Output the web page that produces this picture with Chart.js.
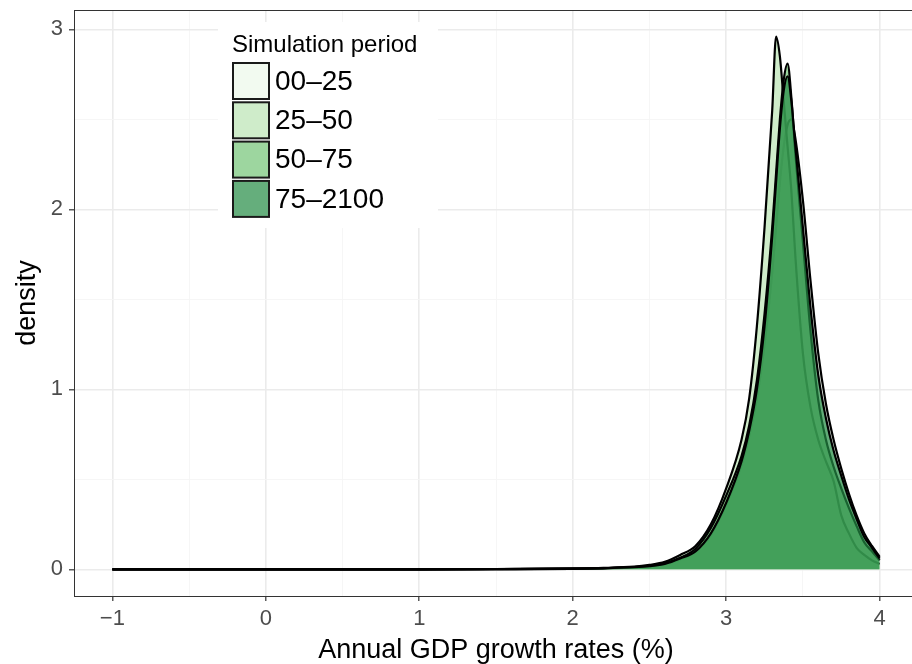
<!DOCTYPE html>
<html>
<head>
<meta charset="utf-8">
<script src="https://cdn.jsdelivr.net/npm/chart.js@4"></script>
<style>
  html, body { margin: 0; padding: 0; background: #fff; overflow: hidden; }
  #wrap { width: 930px; height: 664px; }
</style>
</head>
<body>
<div id="wrap"><canvas id="myChart"></canvas></div>
<script>
const ctx = document.getElementById('myChart')

// simulation periods (legend order)
const periods = ['00–25', '25–50', '50–75', '75–2100']

// growth rate grid (%)
const growth = [-1, 0, 1, 1.5, 2, 2.2, 2.4, 2.5, 2.6, 2.7, 2.8, 2.9, 3.0, 3.1, 3.15, 3.2, 3.25, 3.3, 3.325,
    3.35, 3.375, 3.4, 3.425, 3.45, 3.5, 3.55, 3.6, 3.65, 3.7, 3.75, 3.8, 3.85, 3.9, 3.95, 4.0]

// density per period
const dens0025 = [0, 0, 0, 0.001, 0.003, 0.006, 0.011, 0.018, 0.03, 0.055, 0.1, 0.19, 0.36, 0.58, 0.74, 0.95, 1.25, 1.65, 1.9,
    2.15, 2.35, 2.47, 2.5, 2.4, 2.05, 1.6, 1.2, 0.92, 0.72, 0.56, 0.42, 0.3, 0.2, 0.13, 0.07]
const dens2550 = [0, 0, 0, 0.002, 0.005, 0.008, 0.015, 0.025, 0.042, 0.08, 0.13, 0.25, 0.45, 0.72, 0.95, 1.35, 1.9, 2.55, 2.96,
    2.85, 2.6, 2.35, 2.1, 1.75, 1.2, 0.9, 0.72, 0.6, 0.49, 0.3, 0.2, 0.12, 0.08, 0.05, 0.03]
const dens5075 = [0, 0, 0, 0.001, 0.004, 0.007, 0.013, 0.02, 0.035, 0.065, 0.115, 0.23, 0.41, 0.63, 0.8, 1.05, 1.42, 1.9, 2.2,
    2.5, 2.72, 2.81, 2.62, 2.32, 1.82, 1.32, 0.94, 0.72, 0.57, 0.45, 0.34, 0.24, 0.15, 0.1, 0.05]
const dens75100 = [0, 0, 0, 0.001, 0.003, 0.006, 0.012, 0.018, 0.03, 0.06, 0.1, 0.2, 0.37, 0.6, 0.77, 1.0, 1.35, 1.85, 2.15,
    2.45, 2.66, 2.74, 2.6, 2.36, 1.9, 1.45, 1.08, 0.84, 0.66, 0.52, 0.39, 0.28, 0.18, 0.12, 0.06]

const xTicks = [-1, -0.5, 0, 0.5, 1, 1.5, 2, 2.5, 3, 3.5, 4]
const yTicks = [0, 0.5, 1, 1.5, 2, 2.5, 3]

const fills = ['rgba(237,248,233,0.7)', 'rgba(186,228,179,0.7)', 'rgba(116,196,118,0.7)', 'rgba(35,139,69,0.7)']
const series = [dens0025, dens2550, dens5075, dens75100]

const FONT = '"Liberation Sans", Arial, Helvetica, sans-serif'
Chart.defaults.font.family = FONT

const isInt = v => Math.abs(v - Math.round(v)) < 1e-9
const gridColor = c => isInt(c.tick.value) ? '#ebebeb' : '#f5f5f5'
const gridWidth = c => isInt(c.tick.value) ? 1.6 : 0.9
const tickColor = c => isInt(c.tick.value) ? '#333333' : 'rgba(0,0,0,0)'

// panel border on all four sides
const panelBorder = {
    id: 'panelBorder',
    afterDatasetsDraw(chart) {
        const a = chart.chartArea
        const c = chart.ctx
        c.save()
        c.strokeStyle = '#333333'
        c.lineWidth = 1
        c.strokeRect(a.left + 0.5, a.top + 0.5, a.right - a.left, a.bottom - a.top)
        c.restore()
    }
}

// ggplot style legend inside the panel
const legendBox = {
    id: 'legendBox',
    afterDraw(chart) {
        const c = chart.ctx
        c.save()
        c.fillStyle = '#ffffff'
        c.fillRect(218, 22, 220, 206)
        c.fillStyle = '#000000'
        c.textBaseline = 'middle'
        c.font = '24px ' + FONT
        c.fillText('Simulation period', 232, 45)
        chart.data.datasets.forEach((ds, i) => {
            const y = 63 + i * 39.3
            c.fillStyle = '#ffffff'
            c.fillRect(233, y, 36, 36)
            c.fillStyle = ds.backgroundColor
            c.fillRect(233, y, 36, 36)
            c.strokeStyle = '#1a1a1a'
            c.lineWidth = 2
            c.strokeRect(233, y, 36, 36)
            c.fillStyle = '#000000'
            c.font = '28px ' + FONT
            c.fillText(ds.label, 275, y + 19)
        })
        c.restore()
    }
}

const data = {
    datasets: periods.map((p, i) => ({
        label: p,
        data: growth.map((x, j) => ({ x: x, y: series[i][j] })),
        backgroundColor: fills[i],
        borderColor: '#000000',
        borderWidth: 2.2,
        fill: 'origin',
        pointRadius: 0,
        cubicInterpolationMode: 'monotone',
        order: periods.length - i
    }))
}

const config = {
    type: 'line',
    data: data,
    options: {
        responsive: true,
        maintainAspectRatio: false,
        animation: false,
        layout: { padding: { left: 0, top: 10, right: 12, bottom: 0 } },
        plugins: { legend: { display: false }, tooltip: { enabled: false } },
        scales: {
            x: {
                type: 'linear',
                min: -1.25,
                max: 4.25,
                afterBuildTicks: s => { s.ticks = xTicks.map(v => ({ value: v })) },
                afterFit: s => { s.height = 68; s.paddingLeft = 0; s.paddingRight = 0 },
                grid: { color: gridColor, lineWidth: gridWidth, tickColor: tickColor, tickLength: 5, tickWidth: 1.2 },
                border: { display: true, color: '#333333', width: 1 },
                ticks: {
                    autoSkip: false,
                    maxRotation: 0,
                    padding: 5,
                    color: '#4d4d4d',
                    font: { size: 22 },
                    callback: v => isInt(v) ? (v < 0 ? '\u2212' + Math.abs(v) : String(v)) : ''
                },
                title: {
                    display: true,
                    text: 'Annual GDP growth rates (%)',
                    color: '#000000',
                    font: { size: 27, lineHeight: 1 },
                    padding: { top: 0, bottom: 0 }
                }
            },
            y: {
                type: 'linear',
                min: -0.148,
                max: 3.108,
                afterBuildTicks: s => { s.ticks = yTicks.map(v => ({ value: v })) },
                afterFit: s => { s.width = 74; s.paddingTop = 0; s.paddingBottom = 0 },
                grid: { color: gridColor, lineWidth: gridWidth, tickColor: tickColor, tickLength: 5, tickWidth: 1.2 },
                border: { display: true, color: '#333333', width: 1 },
                ticks: {
                    autoSkip: false,
                    padding: 6,
                    color: '#4d4d4d',
                    font: { size: 22 },
                    callback: v => isInt(v) ? String(v) : ''
                },
                title: {
                    display: true,
                    text: 'density',
                    color: '#000000',
                    font: { size: 27, lineHeight: 1 },
                    padding: { top: 14, bottom: 0 }
                }
            }
        }
    },
    plugins: [panelBorder, legendBox]
}

const myChart = new Chart(ctx, config)
</script>
</body>
</html>
